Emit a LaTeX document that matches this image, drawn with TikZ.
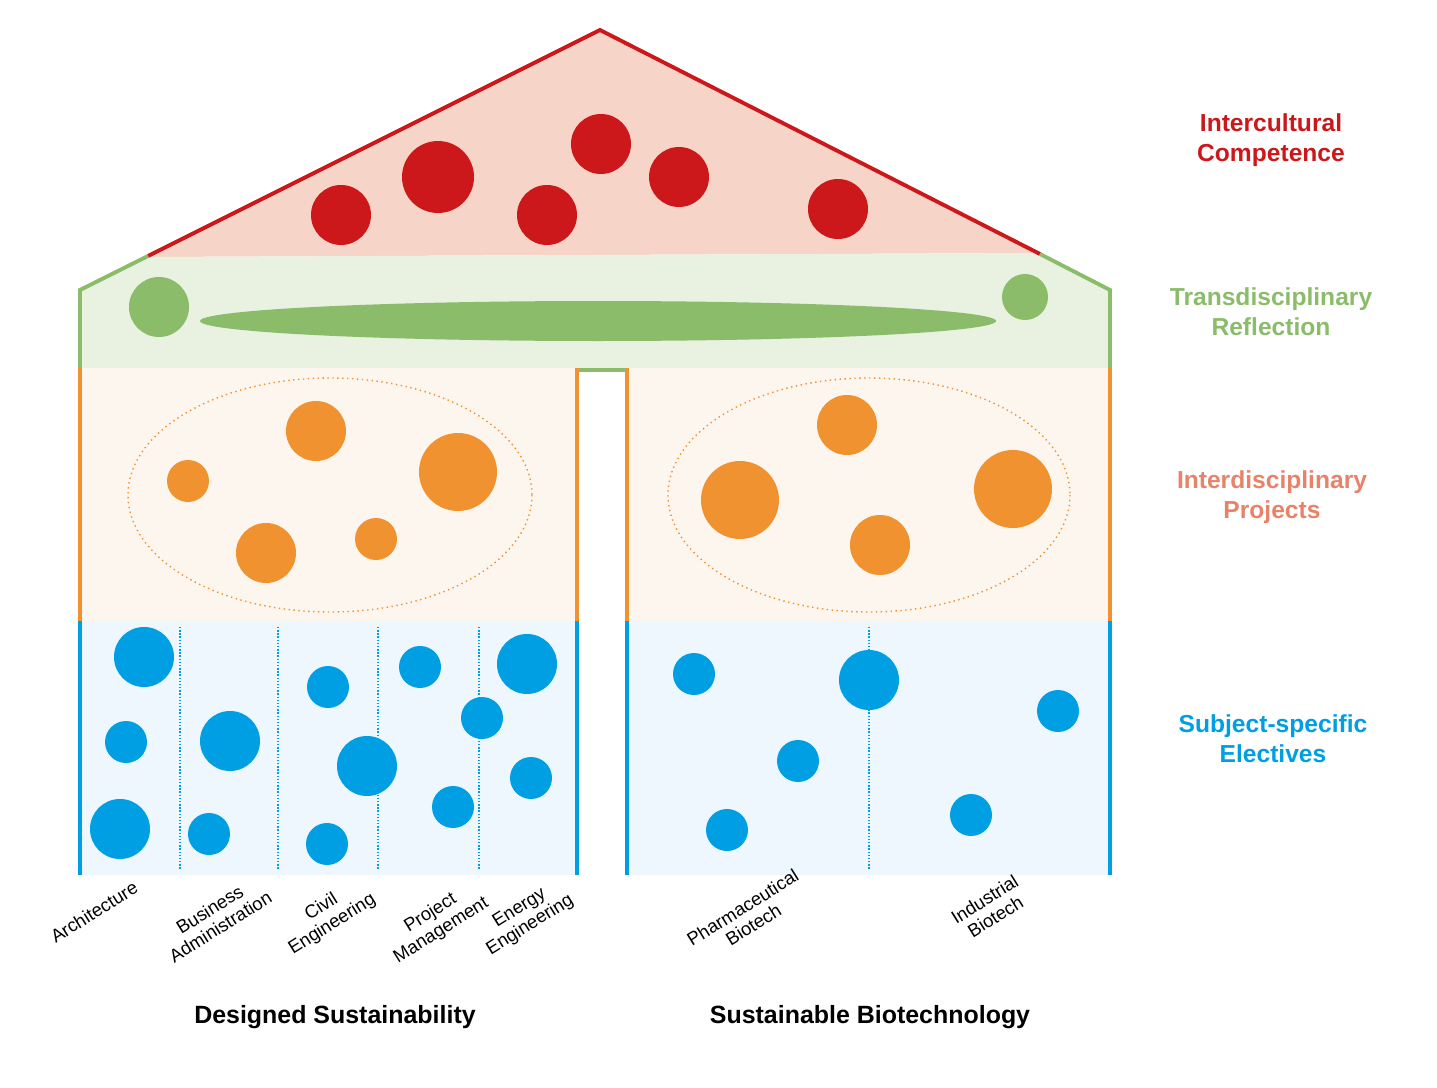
\documentclass[tikz,border=0pt]{standalone}
\usepackage{fontspec}
\setmainfont{Liberation Sans}
\definecolor{roofred}{HTML}{CC171B}
\definecolor{roofpink}{HTML}{F6D5C8}
\definecolor{refgreen}{HTML}{8ABC6A}
\definecolor{refgreenlight}{HTML}{E9F1E1}
\definecolor{projorange}{HTML}{F09230}
\definecolor{projorangelight}{HTML}{FDF6EF}
\definecolor{projsalmon}{HTML}{E8836A}
\definecolor{elecblue}{HTML}{009FE3}
\definecolor{elecbluelight}{HTML}{EEF7FD}
\begin{document}
\begin{tikzpicture}[x=0.02cm,y=-0.02cm,
    wall/.style={line width=2.2pt},
    sep/.style={elecblue,densely dotted,line width=0.8pt},
    layer/.style={font=\bfseries\fontsize{14}{17}\selectfont,align=center},
    subject/.style={font=\fontsize{10.5}{11.5}\selectfont,align=center,rotate=32},
    program/.style={font=\bfseries\fontsize{14.2}{17}\selectfont}]
    \useasboundingbox (0,0) rectangle (1437,1088);
    % fills
    \fill [roofpink] (148,257) -- (600,30) -- (1040,253) -- cycle;
    \fill [refgreenlight] (80,290) -- (148,257) -- (1040,253) -- (1110,290) -- (1110,368) -- (80,368) -- cycle;
    \fill [projorangelight] (80,368) rectangle (577,621);
    \fill [projorangelight] (627,368) rectangle (1110,621);
    \fill [elecbluelight] (80,621) rectangle (577,875);
    \fill [elecbluelight] (627,621) rectangle (1110,875);
    % outlines
    \coordinate (RL) at (148,256);
    \coordinate (apex) at (600,30);
    \coordinate (RR) at (1040,254);
    \draw [wall,roofred] (RL) -- (apex) -- (RR);
    \draw [wall,refgreen] (80,368) -- (80,290) -- (RL);
    \draw [wall,refgreen] (RR) -- (1110,290) -- (1110,368);
    \draw [wall,refgreen] (577,370) -- (627,370);
    \foreach \x in {80,577,627,1110} {
        \draw [wall,projorange] (\x,368) -- (\x,621);
        \draw [wall,elecblue] (\x,621) -- (\x,875);
    }
    % subject separators
    \foreach \x in {180,278,378,479,869}
        \draw [sep] (\x,627) -- (\x,870);
    % intercultural competence
    \foreach \x/\y/\r in {341/215/30, 438/177/36, 547/215/30, 601/144/30, 679/177/30, 838/209/30}
        \fill [roofred] (\x,\y) circle (\r);
    % transdisciplinary reflection
    \fill [refgreen] (159,307) circle (30);
    \fill [refgreen] (1025,297) circle (23);
    \fill [refgreen] (598,321) ellipse (398 and 20);
    % interdisciplinary projects
    \draw [projorange,dotted,line width=0.8pt] (330,495) ellipse (202 and 117);
    \draw [projorange,dotted,line width=0.8pt] (869,495) ellipse (201 and 117);
    \foreach \x/\y/\r in {316/431/30, 188/481/21, 458/472/39, 266/553/30, 376/539/21,
                          847/425/30, 740/500/39, 1013/489/39, 880/545/30}
        \fill [projorange] (\x,\y) circle (\r);
    % subject-specific electives
    \foreach \x/\y/\r in {144/657/30, 126/742/21, 120/829/30, 230/741/30, 209/834/21,
                          328/687/21, 367/766/30, 327/844/21, 420/667/21, 482/718/21,
                          453/807/21, 527/664/30, 531/778/21,
                          694/674/21, 869/680/30, 798/761/21, 727/830/21, 1058/711/21, 971/815/21}
        \fill [elecblue] (\x,\y) circle (\r);
    % layer labels
    \node [layer,text=roofred] (ic) at (1271,140) {Intercultural\\Competence};
    \node [layer,text=refgreen] (tr) at (1271,312) {Transdisciplinary\\Reflection};
    \node [layer,text=projsalmon] (ip) at (1272,497) {Interdisciplinary\\Projects};
    \node [layer,text=elecblue] (se) at (1273,739) {Subject-specific\\Electives};
    % subjects
    \node [subject] (arch) at (94,912) {Architecture};
    \node [subject] (bus) at (215,918) {Business\\Administration};
    \node [subject] (civ) at (327,916) {Civil\\Engineering};
    \node [subject] (pm) at (436,922) {Project\\Management};
    \node [subject] (en) at (525,917) {Energy\\Engineering};
    \node [subject] (ph) at (748,916) {Pharmaceutical\\Biotech};
    \node [subject] (ind) at (990,908) {Industrial\\Biotech};
    % programmes
    \node [program] (ds) at (335,1017) {Designed Sustainability};
    \node [program] (sb) at (870,1017) {Sustainable Biotechnology};
\end{tikzpicture}
\end{document}
